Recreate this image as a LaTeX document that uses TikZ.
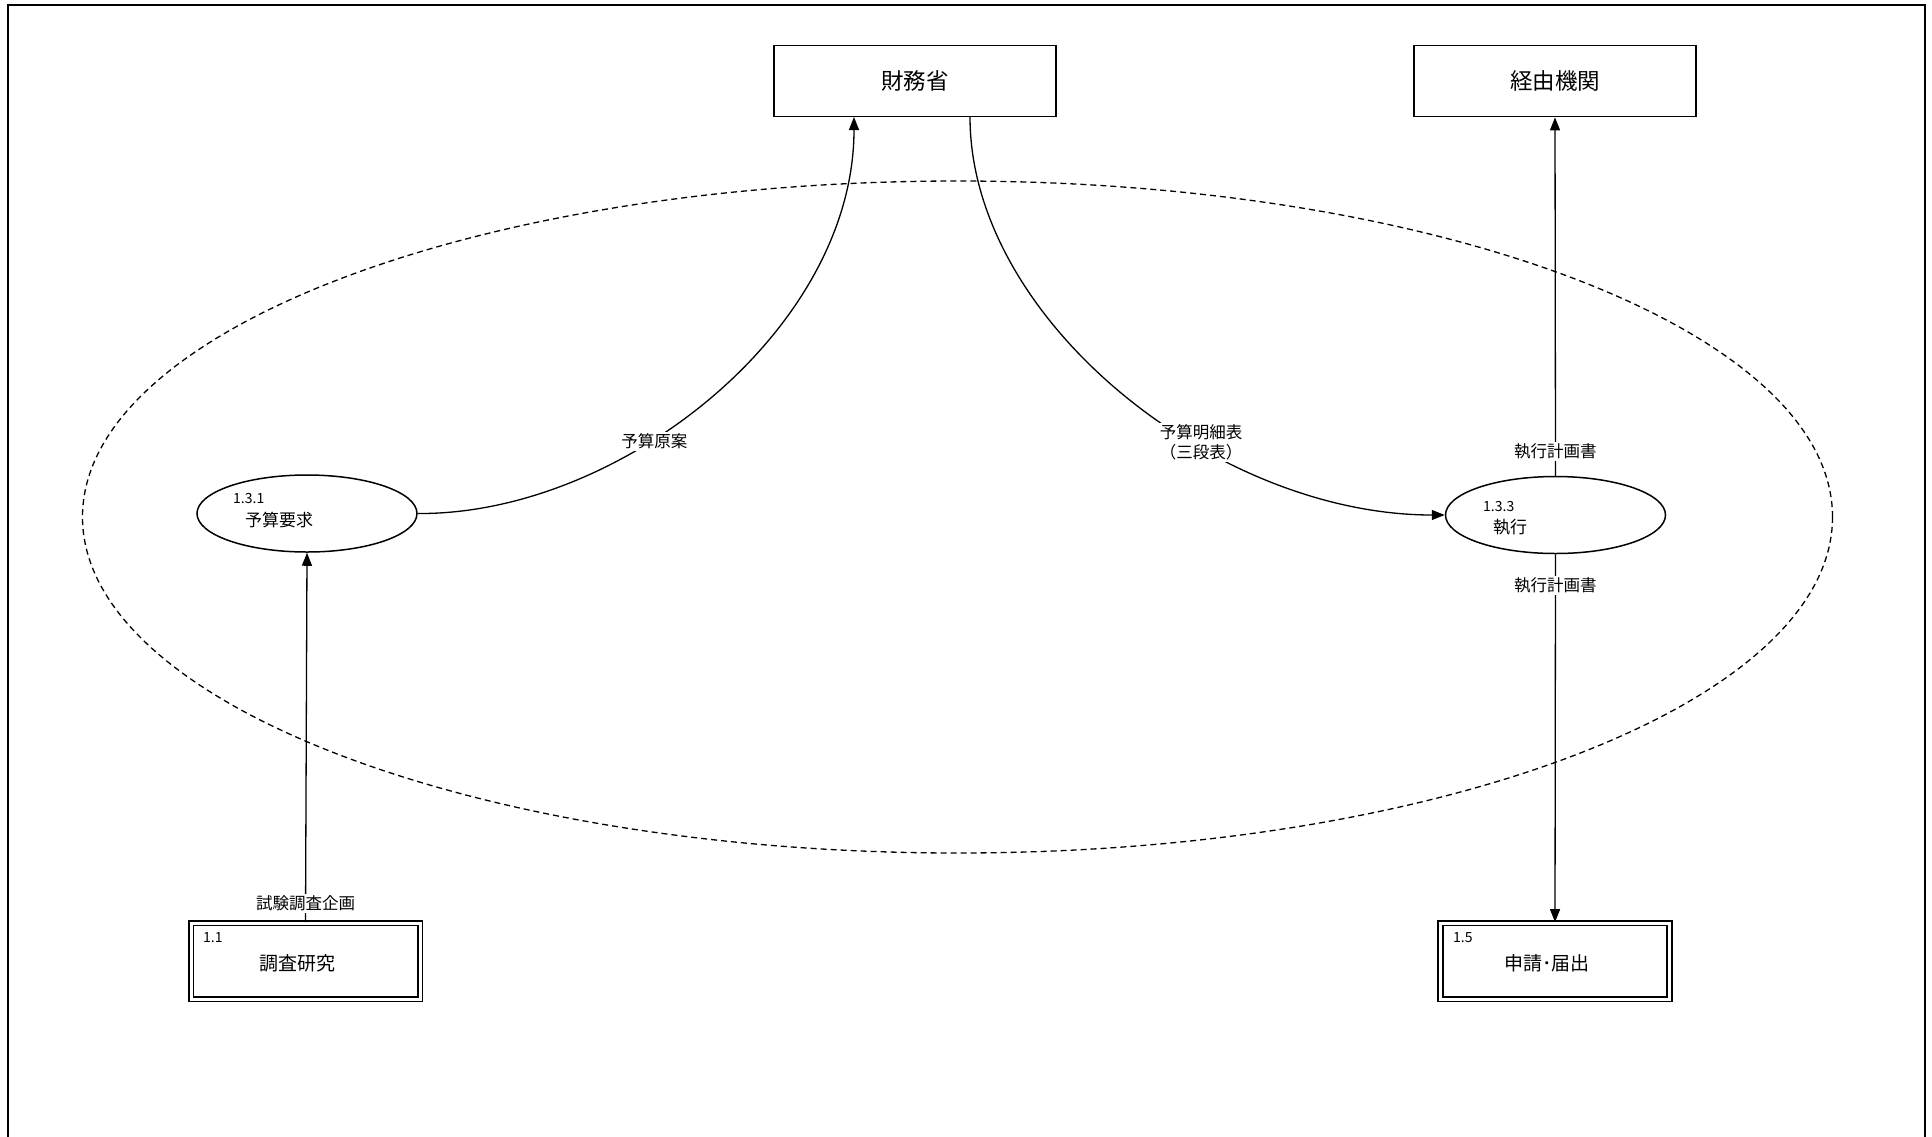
\documentclass[tikz,border=0pt]{standalone}
\usepackage{fontspec}
\setmainfont{Noto Sans CJK JP}
\usetikzlibrary{arrows.meta,shapes.geometric}
\tikzset{
  ext/.style={draw,line width=1.8pt,minimum width=282pt,minimum height=71pt,inner sep=0pt,font=\fontsize{22.5}{26}\selectfont},
  store/.style={draw,double,double distance=3pt,line width=1.8pt,minimum width=229pt,minimum height=76pt,inner sep=0pt},
  proc/.style={draw,ellipse,line width=1.5pt,minimum width=220pt,minimum height=77pt,inner sep=0pt},
  flow/.style={line width=1.3pt,-{Triangle[length=13pt,width=10pt]}},
  lbl/.style={fill=white,inner sep=2pt,font=\fontsize{16.5}{20}\selectfont,align=center},
  num/.style={font=\fontsize{14}{16}\selectfont,inner sep=0pt},
  ttl/.style={font=\fontsize{17}{20}\selectfont,inner sep=0pt},
  btl/.style={font=\fontsize{19}{22}\selectfont,inner sep=0pt}
}
\begin{document}
\begin{tikzpicture}[x=1pt,y=-1pt]
\useasboundingbox (0,0) rectangle (1932,1136);
\fill[white] (0,0) rectangle (1932,1136);
% frame
\draw[line width=2pt] (8,1150) -- (8,5) -- (1925,5) -- (1925,1150);
% context ellipse
\node[draw,ellipse,dash pattern=on 6pt off 4pt,line width=1.3pt,minimum width=1750pt,minimum height=672pt,inner sep=0pt] (ctx) at (957.5,517) {};
% externals
\node[ext] (mof) at (915,81) {財務省};
\node[ext] (via) at (1555,81) {経由機関};
% processes
\node[proc] (req) at (307,513.5) {};
\node[num,anchor=west] at (233,498) {1.3.1};
\node[ttl,anchor=west] at (245,520) {予算要求};
\node[proc] (exe) at (1555.5,515) {};
\node[num,anchor=west] at (1483,506) {1.3.3};
\node[ttl,anchor=west] at (1493,527) {執行};
% stores
\node[store] (res) at (305.5,961) {};
\node[num,anchor=west] at (203,938) {1.1};
\node[btl] at (297,963) {調査研究};
\node[store] (app) at (1555,961) {};
\node[num,anchor=west] at (1453,938) {1.5};
\node[btl] at (1547,963) {申請･届出};
% flows
\draw[flow] (req.east) .. controls (620,515) and (854,330) .. (854,117)
  node[lbl,pos=0.385,xshift=4pt] {予算原案};
\draw[flow] (970,117) .. controls (970,320) and (1216,515) .. (exe.west)
  node[lbl,pos=0.625,xshift=7pt] {予算明細表\\（三段表）};
\draw[flow] (exe.north) -- (via.south) node[lbl,pos=0.068] {執行計画書};
\draw[flow] (exe.south) -- (app.north) node[lbl,pos=0.085] {執行計画書};
\draw[flow] (res.north) -- (req.south) node[lbl,pos=0.05] {試験調査企画};
\end{tikzpicture}
\end{document}
